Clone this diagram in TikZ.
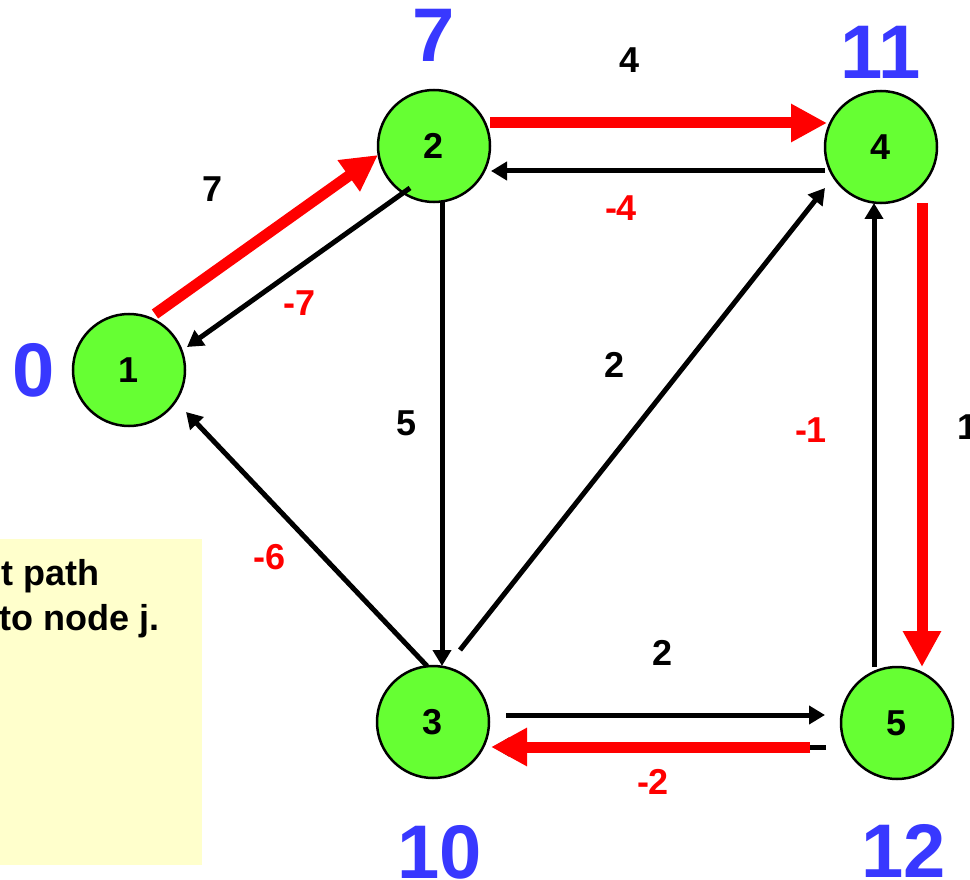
\documentclass[tikz,border=0pt]{standalone}
\usepackage{fontspec}
\setmainfont{Liberation Sans}
\usetikzlibrary{arrows.meta,calc}
\definecolor{nodegreen}{HTML}{66FF33}
\definecolor{distblue}{HTML}{3838FF}
\definecolor{notebg}{HTML}{FFFFCC}
\definecolor{pathred}{HTML}{FF0000}
\tikzset{
  vertex/.style={circle,draw=black,line width=2.5pt,fill=nodegreen,minimum size=112pt,inner sep=0pt,font=\fontsize{36}{40}\selectfont\bfseries},
  dist/.style={inner sep=0pt,text=distblue,font=\fontsize{76}{80}\selectfont\bfseries},
  wlab/.style={inner sep=0pt,text=black,font=\fontsize{36}{40}\selectfont\bfseries},
  rlab/.style={inner sep=0pt,text=pathred,font=\fontsize{36}{40}\selectfont\bfseries},
  blackedge/.style={draw=black,line width=5pt,-{Triangle[length=16pt,width=18pt]}},
  rededge/.style={draw=pathred,line width=11pt,-{Triangle[length=36pt,width=36pt]}},
  notetext/.style={inner sep=0pt,text=black,font=\fontsize{36}{40}\selectfont\bfseries}
}
\begin{document}
\begin{tikzpicture}[x=1pt,y=-1pt]
\useasboundingbox (0,0) rectangle (970,880);
\clip (0,0) rectangle (970,880);
\fill[white] (0,0) rectangle (970,880);
% note box
\fill[notebg] (0,539) rectangle (202,865);
\node[notetext,anchor=base east] (t1) at (100,585) {t path};
\node[notetext,anchor=base east] (t2) at (160,630) {to node j.};
% vertices
\node[vertex] (n1) at (129,370) {1};
\node[vertex] (n2) at (434,146) {2};
\node[vertex] (n3) at (433,722) {3};
\node[vertex] (n4) at (881,147) {4};
\node[vertex] (n5) at (897,723) {5};
% distance labels
\node[dist] (d1) at (34,370) {0};
\node[dist] (d2) at (434,35) {7};
\node[dist] (d4) at (881,52) {11};
\node[dist] (d3) at (440,852) {10};
\node[dist] (d5) at (904,851) {12};
% edges
\draw[rededge] ($(n1)+(26,-56)$) -- ($(n2)+(-56,9)$);
\draw[blackedge] ($(n2)+(-24,42)$) -- ($(n1)+(58,-23)$);
\draw[rededge] ($(n2)+(56,-23)$) -- ($(n4)+(-54,-24)$);
\draw[blackedge] ($(n4)+(-56,24)$) -- ($(n2)+(57,25)$);
\draw[blackedge] ($(n3)+(27,-72)$) -- ($(n4)+(-56,41)$);
\draw[blackedge] ($(n2)+(8,56)$) -- ($(n3)+(9,-56)$);
\draw[blackedge] ($(n3)+(-6,-56)$) -- ($(n1)+(57,42)$);
\draw[blackedge] ($(n5)+(-23,-56)$) -- ($(n4)+(-7,56)$);
\draw[rededge] ($(n4)+(41,56)$) -- ($(n5)+(25,-56)$);
\draw[blackedge] ($(n3)+(73,-7)$) -- ($(n5)+(-72,-8)$);
\draw[blackedge] ($(n5)+(-71,24)$) -- ($(n3)+(60,25)$);
\draw[rededge] ($(n5)+(-87,24)$) -- ($(n3)+(58,25)$);
% edge weights
\node[wlab] (w12) at (213,189) {7};
\node[rlab] (w21) at (300,303) {-7};
\node[wlab] (w24) at (630,60) {4};
\node[rlab] (w42) at (621,208) {-4};
\node[wlab] (w23) at (407,423) {5};
\node[wlab] (w34) at (615,365) {2};
\node[rlab] (w31) at (270,557) {-6};
\node[rlab] (w54) at (811,430) {-1};
\node[wlab,anchor=west] (w45) at (957,427) {1};
\node[wlab] (w35) at (663,653) {2};
\node[rlab] (w53) at (653,782) {-2};
\end{tikzpicture}
\end{document}
